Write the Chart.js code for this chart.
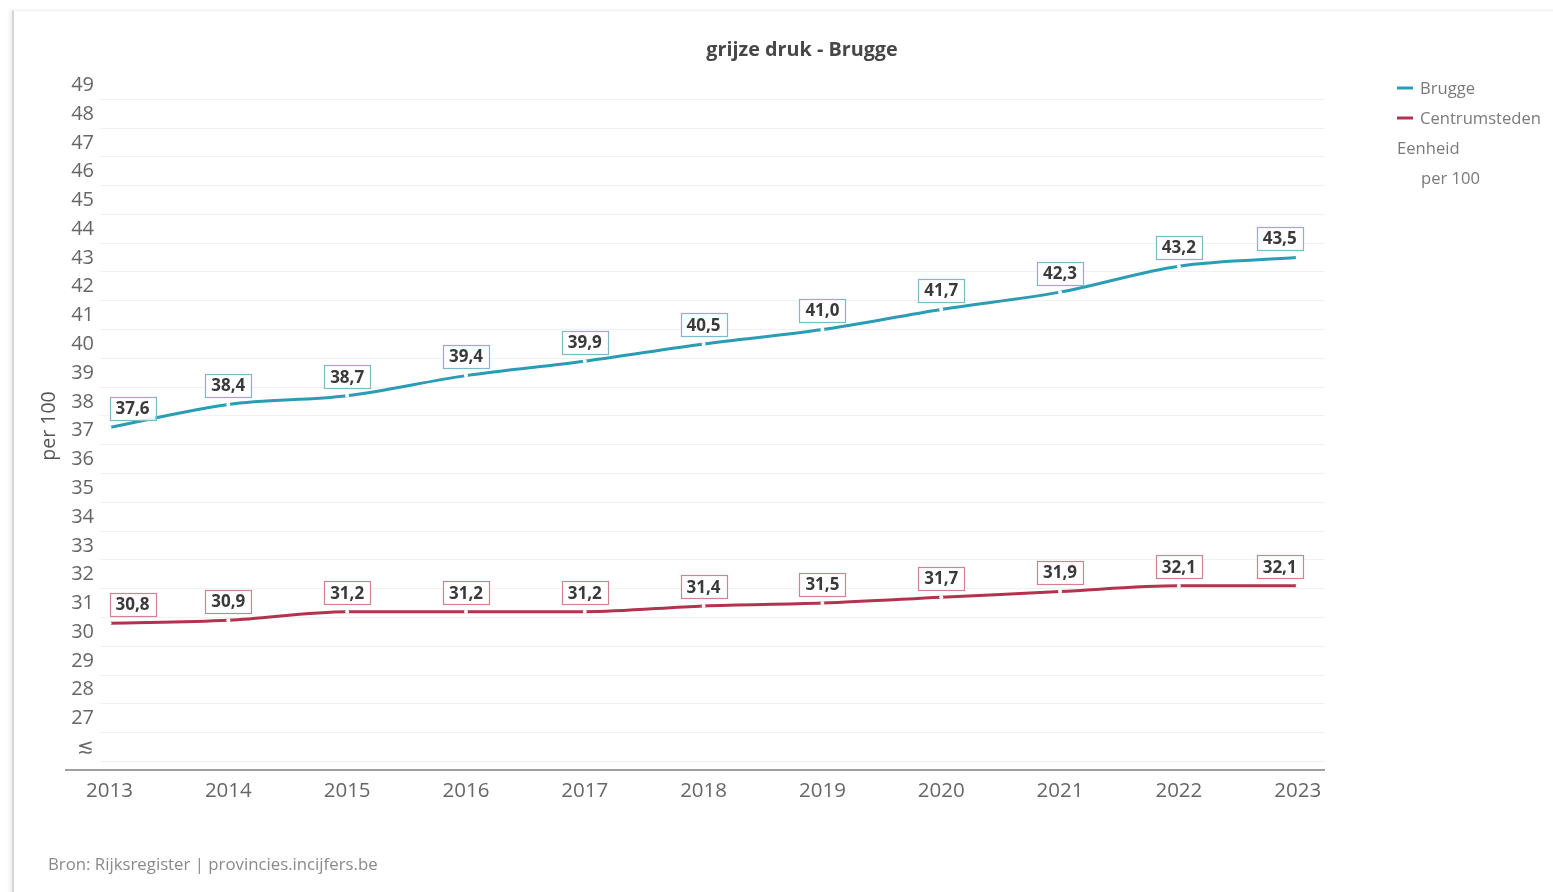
<!DOCTYPE html>
<html>
<head>
<meta charset="utf-8">
<script src="https://cdn.jsdelivr.net/npm/chart.js@4/dist/chart.umd.min.js"></script>
<style>
  html, body { margin: 0; padding: 0; background: #fff; }
  #card { position: absolute; left: 12px; top: 10px; width: 1560px; height: 900px;
          border-left: 2px solid #d6d6d6; border-top: 1px solid #f0f0f0;
          box-shadow: -2px 0 4px rgba(0,0,0,0.08); }
  #wrap { position: absolute; left: 0; top: 0; width: 1553px; height: 892px; }
  #footer { position: absolute; left: 48px; top: 852px; font-family: "Open Sans", sans-serif;
            font-size: 16.8px; color: #8a8a8a; white-space: nowrap; }
</style>
</head>
<body>
<div id="card"></div>
<div id="wrap"><canvas id="c"></canvas></div>
<div id="footer">Bron: Rijksregister | provincies.incijfers.be</div>
<script>
// ---- data ----
const years = [2013, 2014, 2015, 2016, 2017, 2018, 2019, 2020, 2021, 2022, 2023];
const brugge = [37.6, 38.4, 38.7, 39.4, 39.9, 40.5, 41.0, 41.7, 42.3, 43.2, 43.5];
const centrumsteden = [30.8, 30.9, 31.2, 31.2, 31.2, 31.4, 31.5, 31.7, 31.9, 32.1, 32.1];
const yTicks = [26, 27, 28, 29, 30, 31, 32, 33, 34, 35, 36, 37, 38, 39, 40, 41, 42, 43, 44, 45, 46, 47, 48, 49];
const seriesNames = ['Brugge', 'Centrumsteden'];
const chartTitle = 'grijze druk - Brugge';
const unitLabel = 'Eenheid';
const unitValue = 'per 100';

const TEAL = '#2a9cb3';
const RED = '#b23350';
const FONT = '"Open Sans", sans-serif';

function toPoints(vals) { return years.map((y, i) => ({ x: y, y: vals[i] })); }
function fmt(v) { return v.toFixed(1).replace('.', ','); }

const overlay = {
  id: 'overlay',
  beforeDatasetsDraw(chart) {
    const ctx = chart.ctx, a = chart.chartArea;
    ctx.save();
    ctx.strokeStyle = '#a0a0a0';
    ctx.lineWidth = 2;
    ctx.beginPath();
    ctx.moveTo(65, a.bottom);
    ctx.lineTo(a.right, a.bottom);
    ctx.stroke();
    ctx.restore();
  },
  afterDatasetsDraw(chart) {
    const ctx = chart.ctx;
    const borders = ['#7fb9c5', '#cf8291'];
    ctx.save();
    ctx.font = 'bold 17px ' + FONT;
    ctx.textAlign = 'center';
    ctx.textBaseline = 'middle';
    chart.data.datasets.forEach((ds, di) => {
      const meta = chart.getDatasetMeta(di);
      const n = meta.data.length;
      meta.data.forEach((pt, i) => {
        const txt = fmt(ds.data[i].y);
        const w = ctx.measureText(txt).width + 12;
        const h = 23;
        let cx = pt.x;
        const minX = meta.data[0].x + w / 2;
        const maxX = meta.data[n - 1].x + 5 - w / 2;
        if (cx < minX) cx = minX;
        if (cx > maxX) cx = maxX;
        const cy = pt.y - 19;
        ctx.fillStyle = 'rgba(255,255,255,0.9)';
        ctx.fillRect(cx - w / 2, cy - h / 2, w, h);
        ctx.strokeStyle = borders[di];
        ctx.lineWidth = 1.2;
        ctx.strokeRect(Math.round(cx - w / 2) + 0.5, Math.round(cy - h / 2) + 0.5, Math.round(w), h);
        ctx.fillStyle = '#3a3a3a';
        ctx.fillText(txt, cx, cy + 1);
      });
    });
    ctx.restore();
  },
  afterDraw(chart) {
    const ctx = chart.ctx;
    ctx.save();
    // title
    ctx.font = 'bold 19.8px ' + FONT;
    ctx.fillStyle = '#474747';
    ctx.textAlign = 'center';
    ctx.textBaseline = 'middle';
    ctx.fillText(chartTitle, 802, 50);
    // legend
    const cols = [TEAL, RED];
    ctx.font = '16.6px ' + FONT;
    ctx.textAlign = 'left';
    seriesNames.forEach((name, i) => {
      const y = 88 + i * 30;
      ctx.strokeStyle = cols[i];
      ctx.lineWidth = 3;
      ctx.beginPath();
      ctx.moveTo(1397, y);
      ctx.lineTo(1413, y);
      ctx.stroke();
      ctx.fillStyle = '#7a7a7a';
      ctx.fillText(name, 1420, y + 1);
    });
    ctx.fillStyle = '#7a7a7a';
    ctx.fillText(unitLabel, 1397, 149);
    ctx.fillText(unitValue, 1421, 179);
    ctx.restore();
  }
};

const ds = (label, vals, color) => ({
  label, data: toPoints(vals), borderColor: color, backgroundColor: color,
  borderWidth: 3, cubicInterpolationMode: 'monotone',
  pointRadius: 2, pointBackgroundColor: '#fff', pointBorderColor: '#fff', pointBorderWidth: 0,
  clip: false
});

new Chart(document.getElementById('c'), {
  type: 'line',
  data: { datasets: [ds(seriesNames[0], brugge, TEAL), ds(seriesNames[1], centrumsteden, RED)] },
  options: {
    responsive: true,
    maintainAspectRatio: false,
    animation: false,
    layout: { padding: { left: 0, right: 228, top: 82, bottom: 62 } },
    plugins: { legend: { display: false }, title: { display: false }, tooltip: { enabled: false } },
    scales: {
      x: {
        type: 'linear', min: 2012.92, max: 2023.23,
        afterBuildTicks(s) { s.ticks = years.map(v => ({ value: v })); },
        afterFit(s) { s.height = 60; },
        grid: { display: false, drawTicks: false },
        border: { display: false },
        ticks: { color: '#666', font: { family: FONT, size: 20.5 }, padding: 9,
                 maxRotation: 0, autoSkip: false, callback: v => String(v) }
      },
      y: {
        min: 25.7, max: 49.6,
        afterBuildTicks(s) { s.ticks = yTicks.map(v => ({ value: v })); },
        afterFit(s) { s.width = 100; },
        grid: { color: '#f1f1f1', lineWidth: 1, drawTicks: false },
        border: { display: false },
        ticks: { color: '#666', font: { family: FONT, size: 20 }, padding: 6, labelOffset: -14,
                 autoSkip: false, callback: v => v === 26 ? '≲' : String(v) },
        title: { display: true, text: unitValue, color: '#555', font: { family: FONT, size: 19.5 },
                 padding: { top: 38, bottom: 0 } }
      }
    }
  },
  plugins: [overlay]
});
</script>
</body>
</html>
